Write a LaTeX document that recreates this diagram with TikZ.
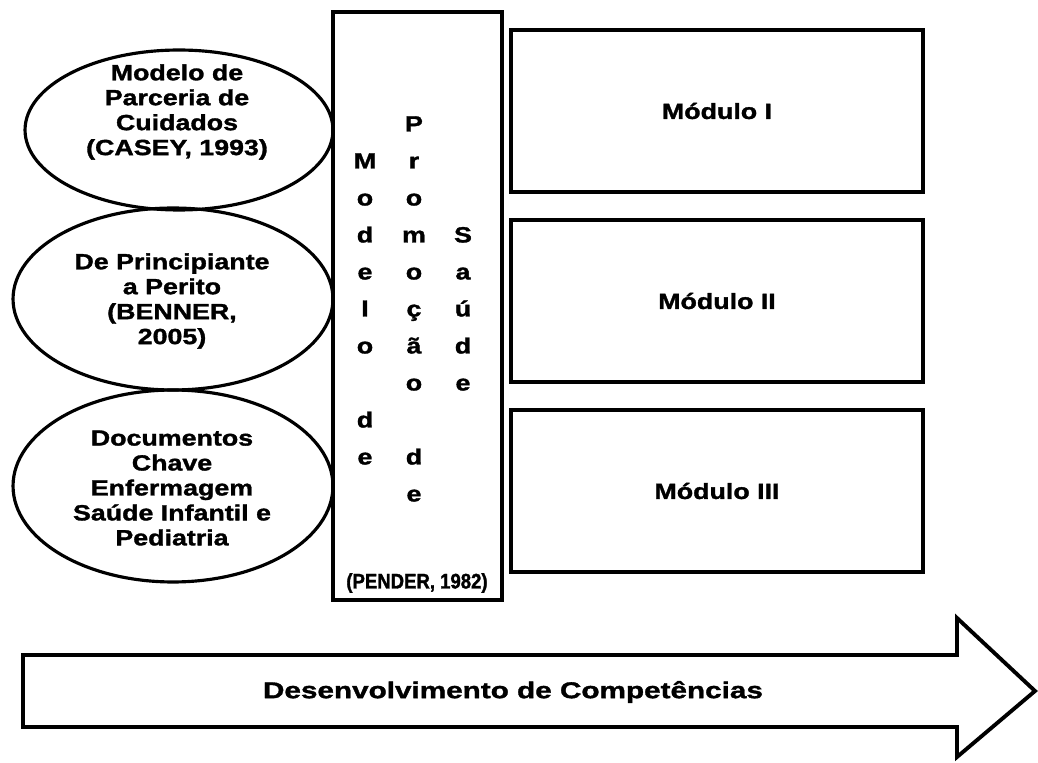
\documentclass[tikz,border=0pt]{standalone}
\usepackage{fontspec}
\setmainfont{Liberation Sans}[FakeStretch=1.22, FakeBold=1.5]
\newfontfamily\arrowfont{Liberation Sans}[FakeStretch=1.3, FakeBold=1.5]
\newfontfamily\penderfont{Liberation Sans}[FakeStretch=0.88, FakeBold=1.5]
\usetikzlibrary{shapes.geometric}

\begin{document}
\begin{tikzpicture}[
        x=0.02cm, y=-0.02cm,
        every node/.style={font=\bfseries\fontsize{12.5}{14.2}\selectfont},
        ell/.style={ellipse, draw, line width=1.8pt, inner sep=0pt},
        elltext/.style={align=center, inner sep=0pt},
        modbox/.style={draw, line width=2.2pt, minimum width=8.24cm, minimum height=3.24cm},
        col/.style={align=center, anchor=south, inner sep=0pt,
          font=\bfseries\fontsize{12.5}{21.06}\selectfont}
      ]
      \useasboundingbox (0,0) rectangle (1038,763);

      \node[ell, minimum width=6.16cm, minimum height=3.2cm] (casey) at (179,130) {};
      \node[elltext] (casey-txt) at (177,112) {Modelo de\\Parceria de\\Cuidados\\(CASEY, 1993)};
      \node[ell, minimum width=6.4cm, minimum height=3.64cm] (benner) at (173,299) {};
      \node[elltext] (benner-txt) at (172,301) {De Principiante\\a Perito\\(BENNER,\\2005)};
      \node[ell, minimum width=6.4cm, minimum height=3.84cm] (docs) at (173,486) {};
      \node[elltext] (docs-txt) at (172,488) {Documentos\\Chave\\Enfermagem\\Saúde Infantil e\\Pediatria};

      \node[draw, line width=2.2pt, minimum width=3.38cm, minimum height=11.76cm] (pender) at (417.5,306) {};
      \node[col] (modelo) at (365,465) {M\\o\\d\\e\\l\\o\\\mbox{}\\d\\e};
      \node[col] (promocao) at (414,502) {P\\r\\o\\m\\o\\ç\\ã\\o\\\mbox{}\\d\\e};
      \node[col] (saude) at (463,391) {S\\a\\ú\\d\\e};
      \node[font=\penderfont\bfseries\fontsize{12}{14}\selectfont] (pender-ref) at (417,583) {(PENDER, 1982)};

      \node[modbox] (mod1) at (717,111) {Módulo I};
      \node[modbox] (mod2) at (717,301) {Módulo II};
      \node[modbox] (mod3) at (717,491) {Módulo III};

      \draw[line width=2.2pt] (23,655) -- (957,655) -- (957,618) -- (1035,691)
        -- (957,757) -- (957,727) -- (23,727) -- cycle;
      \node[font=\arrowfont\bfseries\fontsize{13}{15}\selectfont] (desenv) at (513,692) {Desenvolvimento de Competências};
    \end{tikzpicture}
\end{document}
